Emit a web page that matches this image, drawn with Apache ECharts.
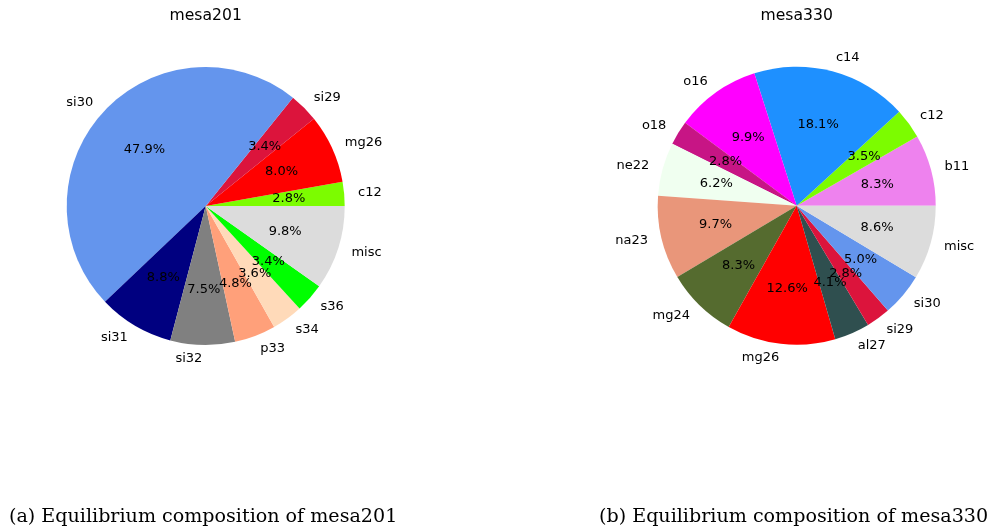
<!DOCTYPE html>
<html>
<head>
<meta charset="utf-8">
<script src="https://cdn.jsdelivr.net/npm/echarts@6/dist/echarts.min.js"></script>
<style>
  html, body { margin: 0; padding: 0; background: #fff; }
  #chart { width: 996px; height: 529px; }
</style>
</head>
<body>
<div id="chart"></div>
<script>
// mesa201 equilibrium composition (percent)
const names201 = ['c12', 'mg26', 'si29', 'si30', 'si31', 'si32', 'p33', 's34', 's36', 'misc'];
const values201 = [2.8, 8.0, 3.4, 47.9, 8.8, 7.5, 4.8, 3.6, 3.4, 9.8];
const colors201 = ['#7CFC00', '#FF0000', '#DC143C', '#6495ED', '#000080', '#808080', '#FFA07A', '#FFDAB9', '#00FF00', '#DCDCDC'];

// mesa330 equilibrium composition (percent)
const names330 = ['b11', 'c12', 'c14', 'o16', 'o18', 'ne22', 'na23', 'mg24', 'mg26', 'al27', 'si29', 'si30', 'misc'];
const values330 = [8.3, 3.5, 18.1, 9.9, 2.8, 6.2, 9.7, 8.3, 12.6, 4.1, 2.8, 5.0, 8.6];
const colors330 = ['#EE82EE', '#7CFC00', '#1E90FF', '#FF00FF', '#C71585', '#F0FFF0', '#E9967A', '#556B2F', '#FF0000', '#2F4F4F', '#DC143C', '#6495ED', '#DCDCDC'];

const titles = ['mesa201', 'mesa330'];
const captions = ['(a) Equilibrium composition of mesa201', '(b) Equilibrium composition of mesa330'];

const R = 139;
const centers = [[205.7, 206], [796.7, 205.7]];
const sansFont = '"DejaVu Sans", sans-serif';
const serifFont = '"DejaVu Serif", serif';

function pieSeries(names, values, colors, center) {
  const data = names.map((n, i) => ({ name: n, value: values[i], itemStyle: { color: colors[i] } }));
  const total = values.reduce((a, b) => a + b, 0);
  const common = {
    type: 'pie', center: center, startAngle: 0, clockwise: false,
    avoidLabelOverlap: false, silent: true, animation: false,
    emphasis: { disabled: true },
    labelLayout: { hideOverlap: false }
  };
  return [
    // wedges with names placed just outside the rim
    Object.assign({}, common, {
      radius: [0, R],
      data: data,
      itemStyle: { borderWidth: 0 },
      label: {
        show: true, position: 'outside', distanceToLabelLine: 0,
        color: '#000', fontFamily: sansFont, fontSize: 13,
        formatter: p => p.name
      },
      labelLine: { show: false, length: 0.1 * R, length2: 0 }
    }),
    // invisible ring carrying the percentage labels at 0.6 R
    Object.assign({}, common, {
      radius: [0, 2 * (0.6 * R - 3)],
      data: data.map(d => ({ name: d.name, value: d.value, itemStyle: { color: 'rgba(0,0,0,0)' } })),
      label: {
        show: true, position: 'inside',
        color: '#000', fontFamily: sansFont, fontSize: 13,
        formatter: p => (p.value / total * 100).toFixed(1) + '%'
      },
      labelLine: { show: false }
    })
  ];
}

const chart = echarts.init(document.getElementById('chart'), null, { renderer: 'canvas' });
chart.setOption({
  backgroundColor: '#fff',
  title: [
    { text: titles[0], left: centers[0][0], top: 16, textAlign: 'center', textVerticalAlign: 'middle',
      textStyle: { fontFamily: sansFont, fontSize: 15.6, fontWeight: 'normal', color: '#000' }, padding: 0 },
    { text: titles[1], left: centers[1][0], top: 16, textAlign: 'center', textVerticalAlign: 'middle',
      textStyle: { fontFamily: sansFont, fontSize: 15.6, fontWeight: 'normal', color: '#000' }, padding: 0 },
    { text: captions[0], left: 9, top: 508,
      textStyle: { fontFamily: serifFont, fontSize: 19.1, fontWeight: 'normal', color: '#000' }, padding: 0 },
    { text: captions[1], left: 599, top: 508,
      textStyle: { fontFamily: serifFont, fontSize: 19.1, fontWeight: 'normal', color: '#000' }, padding: 0 }
  ],
  series: [
    ...pieSeries(names201, values201, colors201, centers[0]),
    ...pieSeries(names330, values330, colors330, centers[1])
  ]
});
</script>
</body>
</html>
